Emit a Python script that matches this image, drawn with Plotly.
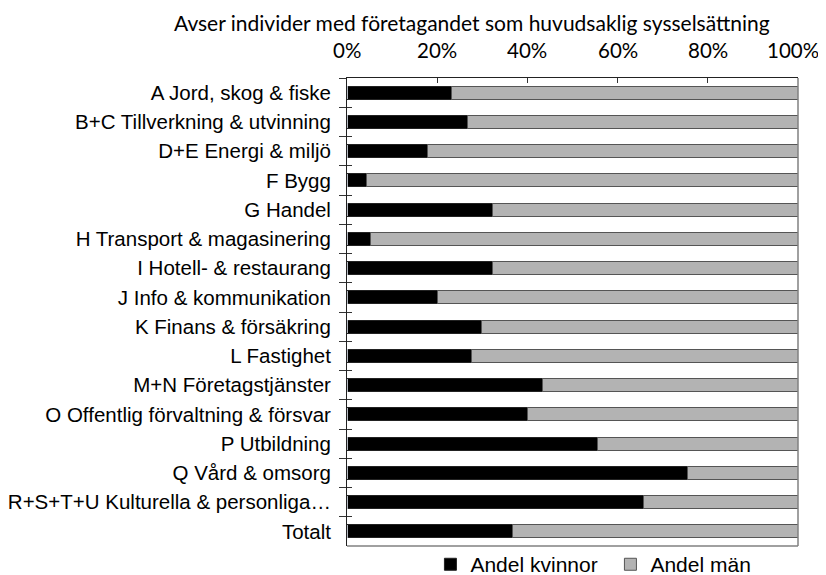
import plotly.graph_objects as go

categories = [
    "A Jord, skog & fiske",
    "B+C Tillverkning & utvinning",
    "D+E Energi & miljö",
    "F Bygg",
    "G Handel",
    "H Transport & magasinering",
    "I Hotell- & restaurang",
    "J Info & kommunikation",
    "K Finans & försäkring",
    "L Fastighet",
    "M+N Företagstjänster",
    "O Offentlig förvaltning & försvar",
    "P Utbildning",
    "Q Vård & omsorg",
    "R+S+T+U Kulturella & personliga…",
    "Totalt",
]
andel_kvinnor = [23.1, 26.8, 17.8, 4.4, 32.2, 5.2, 32.2, 20.1, 29.9, 27.6, 43.4, 40.1, 55.5, 75.4, 65.7, 36.7]
andel_man = [100 - v for v in andel_kvinnor]
tick_vals = [0, 20, 40, 60, 80, 100]
tick_text = ["0%", "20%", "40%", "60%", "80%", "100%"]
title_text = "Avser individer med företagandet som huvudsaklig sysselsättning"

fig = go.Figure()
fig.add_trace(go.Bar(
    y=categories, x=andel_kvinnor, orientation="h", name="Andel kvinnor",
    marker=dict(color="#000000", line=dict(color="#222222", width=1)),
))
fig.add_trace(go.Bar(
    y=categories, x=andel_man, orientation="h", name="Andel män",
    marker=dict(color="#b3b3b3", line=dict(color="#555555", width=1)),
))
# invisible trace on overlay axis for inward half of the crossing ticks
fig.add_trace(go.Bar(
    y=categories, x=[0] * len(categories), orientation="h", yaxis="y2",
    showlegend=False, hoverinfo="skip", marker=dict(color="rgba(0,0,0,0)"),
))

tick_annotations = [
    dict(text=t, xref="x", yref="paper", x=v, y=1.0, xanchor="center",
         yanchor="middle", yshift=28, xshift=(-5 if v == tick_vals[-1] else 0),
         showarrow=False, font=dict(family="Lato, sans-serif", size=20.5))
    for v, t in zip(tick_vals, tick_text)
]

fig.update_layout(
    width=818, height=567,
    margin=dict(l=339, r=28, t=70, b=29, autoexpand=False),
    barmode="stack", bargap=0.56,
    plot_bgcolor="white", paper_bgcolor="white",
    font=dict(family="Liberation Sans, Arial, sans-serif", size=20.5, color="#000000"),
    xaxis=dict(
        side="top", range=[0, 100], tickvals=tick_vals, showticklabels=False,
        ticks="inside", ticklen=5, tickcolor="#333333", tickwidth=1,
        showgrid=False, zeroline=False, showline=True, linecolor="#222222",
        linewidth=1, mirror=False, automargin=False,
    ),
    yaxis=dict(
        type="category", categoryorder="array", categoryarray=categories,
        autorange="reversed", tickson="boundaries", ticks="outside", ticklen=7,
        tickcolor="#333333", showgrid=False, showline=True, linecolor="#222222",
        mirror=False, ticklabelstandoff=11, automargin=False, tickfont=dict(size=20.5),
    ),
    yaxis2=dict(
        type="category", categoryorder="array", categoryarray=categories,
        autorange="reversed", overlaying="y", side="left", tickson="boundaries",
        ticks="inside", ticklen=5, tickcolor="#333333", showticklabels=False,
        showgrid=False, showline=False, automargin=False,
    ),
    legend=dict(
        orientation="h", x=0.185, xanchor="left", y=0.004, yanchor="top",
        font=dict(size=21), traceorder="normal", entrywidth=135,
        bgcolor="rgba(0,0,0,0)",
    ),
    shapes=[
        dict(type="line", xref="paper", yref="paper", x0=1, x1=1, y0=0, y1=1,
             line=dict(color="#808080", width=1.5)),
        dict(type="line", xref="paper", yref="paper", x0=0, x1=1, y0=0, y1=0,
             line=dict(color="#808080", width=1.5)),
    ],
    annotations=[dict(
        text=title_text, xref="paper", yref="paper", x=0.278, xanchor="center",
        y=1.0, yanchor="middle", yshift=56, showarrow=False,
        font=dict(family="Lato, sans-serif", size=21),
    )] + tick_annotations,
)

fig.write_html("out.html")
